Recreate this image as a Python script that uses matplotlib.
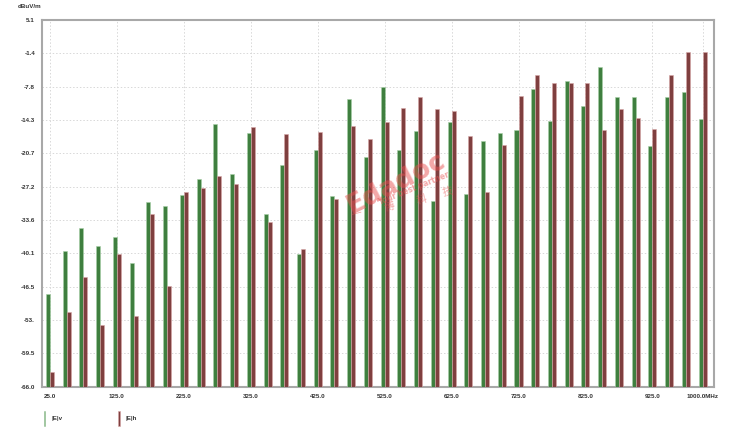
import matplotlib.pyplot as plt
import numpy as np

# frequencies in MHz, one pair of bars every 25 MHz
freqs = np.arange(25, 1001, 25)

# |E|v (green) and |E|h (red) levels in dBuV/m
e_v = [-48.0, -39.7, -35.2, -38.7, -36.9, -42.0, -30.2, -31.0, -28.8, -25.8,
       -15.1, -24.8, -16.8, -32.6, -23.0, -40.3, -20.2, -29.0, -10.2, -21.4,
       -7.8, -20.2, -16.5, -30.0, -14.6, -28.6, -18.3, -16.9, -16.3, -8.2,
       -14.4, -6.7, -11.5, -4.1, -9.8, -9.8, -19.3, -9.8, -8.9, -14.1]
e_h = [-63.1, -51.5, -44.8, -54.1, -40.3, -52.2, -32.6, -46.4, -28.2, -27.5,
       -25.1, -26.7, -15.6, -34.0, -17.0, -39.3, -16.6, -29.6, -15.5, -18.0,
       -14.7, -11.9, -9.8, -12.2, -12.5, -17.3, -28.2, -19.1, -9.6, -5.6,
       -7.1, -7.1, -7.1, -16.2, -12.1, -14.0, -16.1, -5.6, -1.2, -1.2]

y_labels = ['5.1', '-1.4', '-7.8', '-14.3', '-20.7', '-27.2', '-33.6',
            '-40.1', '-46.5', '-53.', '-59.5', '-66.0']
x_ticks = [25, 125, 225, 325, 425, 525, 625, 725, 825, 925, 1000]
x_labels = ['25.0', '125.0', '225.0', '325.0', '425.0', '525.0', '625.0',
            '725.0', '825.0', '925.0', '1000.0MHz']

y_min, y_max = -66.0, 5.1
green = '#3f7f3f'
red = '#7f3f3f'

fig = plt.figure(figsize=(7.3, 4.34), dpi=100)
ax = fig.add_axes([0.0575, 0.109, 0.9205, 0.845])

w = 6
ax.bar(freqs - w / 2, np.array(e_v) - y_min, bottom=y_min, width=w,
       color=green, edgecolor='#a8d0a8', linewidth=0.4, label='|E|v', zorder=3)
ax.bar(freqs + w / 2, np.array(e_h) - y_min, bottom=y_min, width=w,
       color=red, edgecolor='#d8a8a8', linewidth=0.4, label='|E|h', zorder=3)

ax.set_xlim(13, 1017)
ax.set_ylim(y_min, y_max)
ax.set_yticks(np.linspace(y_min, y_max, len(y_labels))[::-1])
ax.set_yticklabels(y_labels)
ax.set_xticks(x_ticks)
ax.set_xticklabels(x_labels)

tick_font = dict(family='Liberation Sans', weight='bold', size=4.5)
for lab in ax.get_xticklabels() + ax.get_yticklabels():
    lab.set_fontproperties(tick_font)
    lab.set_color('#333333')
ax.tick_params(length=0, pad=5)

ax.grid(True, linestyle=(0, (1.5, 2)), color='#d8d8d8', linewidth=0.7, zorder=0)
for s in ax.spines.values():
    s.set_color('#a8a8a8')
    s.set_linewidth(1.5)

fig.text(0.04, 0.985, 'dBuV/m', ha='center', va='center',
         family='Liberation Sans', weight='bold', size=4.5, color='#333333')

leg = ax.legend(loc='upper left', bbox_to_anchor=(0.052, 0.065),
                bbox_transform=fig.transFigure, ncol=2, frameon=False,
                handlelength=0.3, handleheight=3.2, handletextpad=0.9,
                columnspacing=9, prop=dict(family='Liberation Sans',
                                           weight='bold', size=4.5))
for t in leg.get_texts():
    t.set_color('#333333')

# faint company watermark across the middle
wm = dict(color='#e85050', alpha=0.5, ha='center', va='center',
          transform=ax.transAxes, zorder=4)
ax.text(0.527, 0.555, 'Edadoc', size=19, weight='bold', rotation=27,
        family='DejaVu Sans', **wm)
ax.text(0.553, 0.54, 'Your best partner', size=5.5, weight='bold',
        rotation=22, family='DejaVu Sans', **wm)
cjk_pos = [(0.469, 0.468), (0.518, 0.49), (0.565, 0.509), (0.603, 0.531)]
for ch, (cx, cy) in zip('一博科技', cjk_pos):
    ax.text(cx, cy, ch, size=7.5, rotation=15,
            family=['Noto Sans CJK SC', 'DejaVu Sans'], **wm)

fig.savefig('out.png', dpi=100, facecolor='white')
